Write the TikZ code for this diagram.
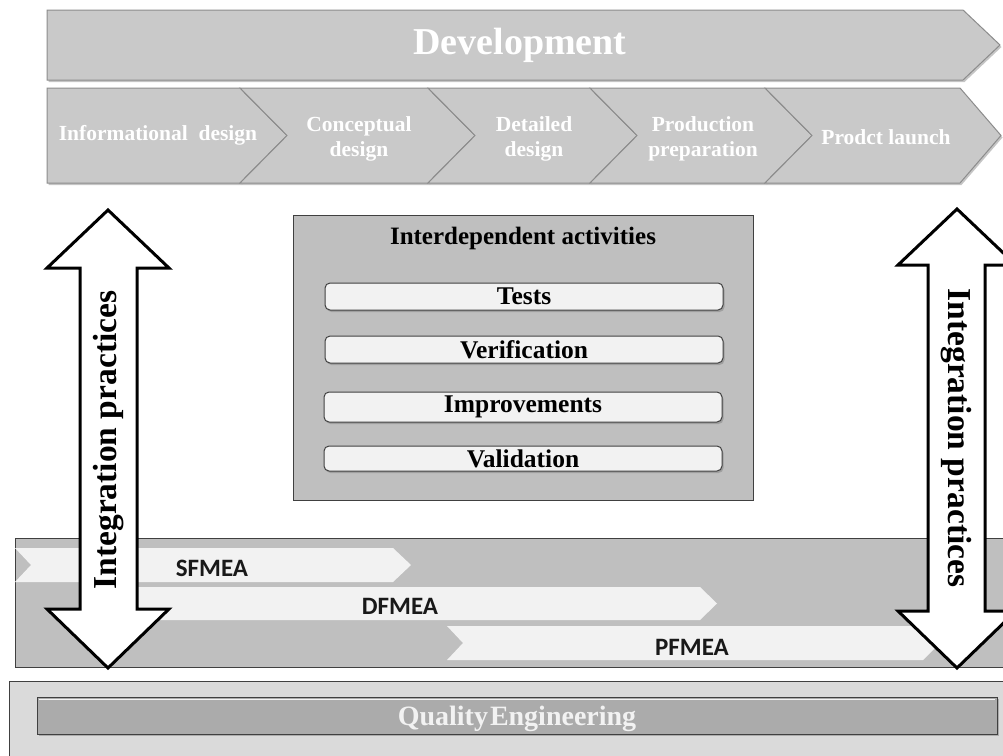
\documentclass[tikz,border=0pt]{standalone}
\usepackage{fontspec}
\setmainfont{Liberation Serif}
\newfontfamily\calibfont{Carlito}
\usetikzlibrary{shadows}
\definecolor{devfill}{HTML}{C9C9C9}
\definecolor{devedge}{HTML}{8C8C8C}
\definecolor{boxfill}{HTML}{BFBFBF}
\definecolor{lightfill}{HTML}{F2F2F2}
\definecolor{darkedge}{HTML}{404040}
\definecolor{qualfill}{HTML}{DADADA}
\definecolor{barfill}{HTML}{ABABAB}
\tikzset{
  devshape/.style={fill=devfill, draw=devedge, line width=1pt,
    drop shadow={shadow xshift=1.5pt, shadow yshift=-2pt, opacity=0.45}},
  phaseshape/.style={fill=devfill, draw=devedge, line width=1pt,
    drop shadow={shadow xshift=1.5pt, shadow yshift=-2pt, opacity=0.45}},
  devtext/.style={text=white, font=\fontsize{38}{40}\selectfont\bfseries, inner sep=0pt},
  phasetext/.style={text=white, font=\fontsize{21.5}{25}\selectfont\bfseries, align=center, inner sep=0pt},
  graybox/.style={fill=boxfill, draw=darkedge, line width=1pt},
  actbox/.style={fill=lightfill, draw=darkedge, line width=1pt, rounded corners=5pt,
    minimum width=398pt, inner sep=0pt, font=\fontsize{25.5}{27}\selectfont\bfseries,
    drop shadow={shadow xshift=1.5pt, shadow yshift=-2pt, opacity=0.5}},
  strip/.style={fill=lightfill, draw=none},
  fmeatext/.style={font=\calibfont\fontsize{25}{27}\selectfont\bfseries, text=black!90, inner sep=0pt},
  bigarrow/.style={fill=white, draw=black, line width=3pt, line join=miter},
  arrowtext/.style={font=\fontsize{33.5}{35}\selectfont\bfseries, inner sep=0pt},
}
\begin{document}
\begin{tikzpicture}[x=1pt,y=-1pt]
\useasboundingbox (0,0) rectangle (1003,755);
\clip (0,0) rectangle (1003,755);
\fill[white] (0,0) rectangle (1003,755);

% Development arrow
\path[devshape] (47,10) -- (963,10) -- (1000,45) -- (963,80) -- (47,80) -- cycle;
\node[devtext] (dev) at (520,45) {Development};

% Phases
\path[phaseshape] (47,88) -- (240,88) -- (287,135.5) -- (240,183) -- (47,183) -- cycle;
\path[phaseshape] (240,88) -- (428,88) -- (475,135.5) -- (428,183) -- (240,183) -- (287,135.5) -- cycle;
\path[phaseshape] (428,88) -- (590,88) -- (637,135.5) -- (590,183) -- (428,183) -- (475,135.5) -- cycle;
\path[phaseshape] (590,88) -- (765,88) -- (812,135.5) -- (765,183) -- (590,183) -- (637,135.5) -- cycle;
\path[phaseshape] (765,88) -- (960,88) -- (1001,135.5) -- (960,183) -- (765,183) -- (812,135.5) -- cycle;
\node[phasetext] (p1) at (158,135) {Informational\ \ design};
\node[phasetext] (p2) at (359,139) {Conceptual\\design};
\node[phasetext] (p3) at (534,139) {Detailed\\design};
\node[phasetext] (p4) at (703,139) {Production\\preparation};
\node[phasetext] (p5) at (886,137) {Prodct launch};

% Interdependent activities
\path[graybox] (293,215) rectangle (753,500);
\node[font=\fontsize{25}{27}\selectfont\bfseries, inner sep=0pt] (iatitle) at (523,238) {Interdependent activities};
\node[actbox, minimum height=27pt] (tests) at (524,296.5) {Tests};
\node[actbox, minimum height=27pt] (verif) at (524,349.5) {Verification};
\node[actbox, minimum height=30pt] (impr) at (523,407) {Improvements};
\node[actbox, minimum height=25pt] (valid) at (523,458.5) {Validation};

% FMEA band
\path[graybox] (15,538) rectangle (1015,667);
\path[strip] (15,548) -- (393,548) -- (411,565) -- (393,582) -- (15,582) -- (31,565) -- cycle;
\path[strip] (100,587) -- (700,587) -- (717,603.5) -- (700,620) -- (100,620) -- cycle;
\path[strip] (447,626) -- (923,626) -- (940,643) -- (923,660) -- (447,660) -- (463,643) -- cycle;
\node[fmeatext] (sf) at (212,568) {SFMEA};
\node[fmeatext] (df) at (400,606.5) {DFMEA};
\node[fmeatext] (pf) at (692,647) {PFMEA};

% Quality engineering
\path[fill=qualfill, draw=darkedge, line width=1pt] (9,681) rectangle (1015,780);
\path[fill=barfill, draw=darkedge, line width=1pt,
  drop shadow={shadow xshift=1.5pt, shadow yshift=-2pt, opacity=0.5}] (37,697) rectangle (997,734);
\draw[white!85!barfill, line width=1.5pt] (39,699.5) -- (995,699.5);
\node[text=lightfill, font=\fontsize{28}{30}\selectfont\bfseries, inner sep=0pt] (qe) at (517,719) {Quality\kern2pt Engineering};

% Integration practices arrows
\path[bigarrow] (108,210) -- (169,268) -- (137,268) -- (137,609) -- (169,609) -- (108,668)
  -- (47,609) -- (80,609) -- (80,268) -- (47,268) -- cycle;
\node[arrowtext, rotate=90] (ipl) at (109,440) {Integration practices};
\path[bigarrow] (957,209) -- (1016,265) -- (985,265) -- (985,611) -- (1016,611) -- (957,668)
  -- (898,611) -- (928,611) -- (928,265) -- (898,265) -- cycle;
\node[arrowtext, rotate=-90] (ipr) at (956,438) {Integration practices};
\end{tikzpicture}
\end{document}
